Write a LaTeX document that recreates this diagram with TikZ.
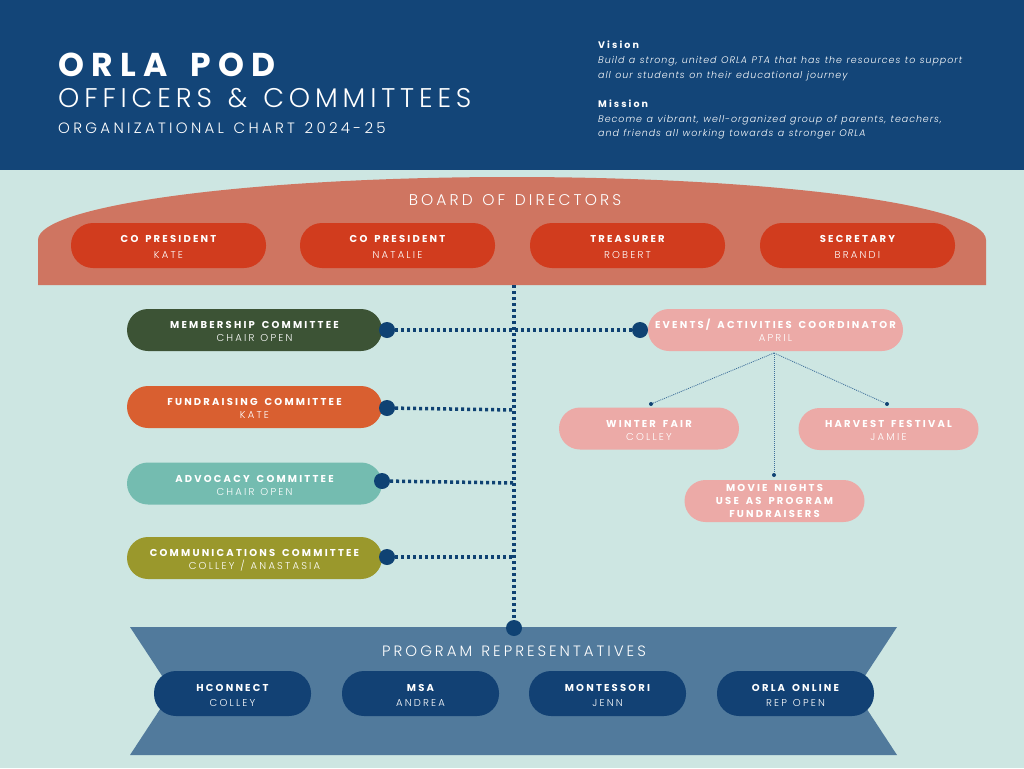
\documentclass[tikz,border=0pt]{standalone}
\usepackage{fontspec}
\setmainfont{Poppins}
\newfontfamily\lblfont[LetterSpace=22, WordSpace=1.6]{Poppins}
\newfontfamily\namefont[LetterSpace=22, WordSpace=1.2]{Poppins Light}
\newfontfamily\headfont[LetterSpace=20, WordSpace=1.3]{Poppins Light}
\newfontfamily\visfont[LetterSpace=10, WordSpace=1.2]{Poppins Light}
\usetikzlibrary{positioning, calc}

\definecolor{headblue}{HTML}{134578}
\definecolor{bgmint}{HTML}{CDE6E2}
\definecolor{boardfill}{HTML}{CF7561}
\definecolor{boardbox}{HTML}{D13C1E}
\definecolor{memgreen}{HTML}{3C5335}
\definecolor{fundorange}{HTML}{D95F30}
\definecolor{advoteal}{HTML}{74BCB0}
\definecolor{commolive}{HTML}{9A982C}
\definecolor{eventpink}{HTML}{ECAAA7}
\definecolor{ribbonblue}{HTML}{517A9C}
\definecolor{progblue}{HTML}{124174}
\definecolor{dotblue}{HTML}{0F4273}
\definecolor{fanblue}{HTML}{3D6E9A}

\newcommand{\twoline}[3][0pt]{{\fontsize{10}{14}\bfseries\lblfont\rule{0pt}{13pt}#2}\\[#1]{\fontsize{10}{14}\namefont\rule[-3pt]{0pt}{10pt}#3}}

\begin{document}
\begin{tikzpicture}[
    x=1pt, y=-1pt,
    pill/.style={rectangle, rounded corners=21pt, text=white, align=center, inner sep=0pt, minimum height=42pt},
    board/.style={pill, fill=boardbox, minimum width=195pt, minimum height=45pt, rounded corners=22pt},
    committee/.style={pill, minimum width=255pt},
    event/.style={pill, fill=eventpink, minimum width=180pt},
    program/.style={pill, fill=progblue, minimum width=157pt, minimum height=45pt, rounded corners=22pt},
    joint/.style={circle, fill=dotblue, inner sep=0pt, minimum size=16pt},
    tip/.style={circle, fill=dotblue, inner sep=0pt, minimum size=4pt},
    link/.style={dotblue, line width=3.5pt, dash pattern=on 3pt off 3pt},
    fan/.style={fanblue, line width=0.8pt, dash pattern=on 1pt off 1pt}
]
    \useasboundingbox (0,0) rectangle (1024,768);
    \fill [bgmint] (0,0) rectangle (1024,768);

    % Header
    \fill [headblue] (0,0) rectangle (1024,170);
    \node (title) [anchor=base west, text=white, inner sep=0pt, font=\fontsize{33}{33}\bfseries\lblfont] at (58,76) {ORLA POD};
    \node (subtitle) [anchor=base west, text=white, inner sep=0pt, font=\fontsize{27}{27}\headfont\addfontfeatures{LetterSpace=18}] at (58,107) {OFFICERS \& COMMITTEES};
    \node (chart) [anchor=base west, text=white, inner sep=0pt, font=\fontsize{15}{15}\headfont\addfontfeatures{LetterSpace=22}] at (58,133) {ORGANIZATIONAL CHART 2024-25};

    \node (vision) [anchor=north west, text=white, inner sep=0pt, align=left, font=\fontsize{9.5}{15}\visfont] at (598,41)
        {{\bfseries\lblfont Vision}\\
         \itshape Build a strong, united ORLA PTA that has the resources to support\\
         \itshape all our students on their educational journey};
    \node (mission) [anchor=north west, text=white, inner sep=0pt, align=left, font=\fontsize{9.5}{14.5}\visfont] at (598,100)
        {{\bfseries\lblfont Mission}\\
         \itshape Become a vibrant, well-organized group of parents, teachers,\\
         \itshape and friends all working towards a stronger ORLA};

    % Board of directors
    \fill [boardfill] (38,285) -- (38,240) arc [start angle=180, end angle=0, x radius=474, y radius=-63] -- (986,285) -- cycle;
    \node (boardtitle) [anchor=base, text=white, font=\fontsize{15.5}{15.5}\headfont] at (515,205) {BOARD OF DIRECTORS};
    \node (pres1) [board] at (168.5,245.5) {\twoline[4pt]{CO PRESIDENT}{KATE}};
    \node (pres2) [board] at (397.5,245.5) {\twoline[4pt]{CO PRESIDENT}{NATALIE}};
    \node (treas) [board] at (627.5,245.5) {\twoline[4pt]{TREASURER}{ROBERT}};
    \node (secr) [board] at (857.5,245.5) {\twoline[4pt]{SECRETARY}{BRANDI}};

    % Program representatives
    \fill [ribbonblue] (130,627) -- (897,627) -- (855,691) -- (897,755) -- (130,755) -- (172,691) -- cycle;
    \node (progtitle) [anchor=base, text=white, font=\fontsize{15}{15}\headfont] at (514,656) {PROGRAM REPRESENTATIVES};
    \node (hconn) [program] at (232.5,693.5) {\twoline[3pt]{HCONNECT}{COLLEY}};
    \node (msa) [program] at (420.5,693.5) {\twoline[3pt]{MSA}{ANDREA}};
    \node (mont) [program] at (607.5,693.5) {\twoline[3pt]{MONTESSORI}{JENN}};
    \node (online) [program] at (795.5,693.5) {\twoline[3pt]{ORLA ONLINE}{REP OPEN}};

    % Committees
    \node (member) [committee, fill=memgreen] at (254.5,330) {\twoline[1pt]{MEMBERSHIP COMMITTEE}{CHAIR OPEN}};
    \node (fund) [committee, fill=fundorange] at (254.5,407) {\twoline[1pt]{FUNDRAISING COMMITTEE}{KATE}};
    \node (advo) [committee, fill=advoteal] at (254.5,483.5) {\twoline[1pt]{ADVOCACY COMMITTEE}{CHAIR OPEN}};
    \node (comm) [committee, fill=commolive] at (254.5,558) {\twoline[1pt]{COMMUNICATIONS COMMITTEE}{COLLEY / ANASTASIA}};

    % Events
    \node (events) [committee, fill=eventpink] at (775.5,330) {\twoline[1pt]{EVENTS/ ACTIVITIES COORDINATOR}{APRIL}};
    \node (winter) [event] at (649,428.5) {\twoline[1pt]{WINTER FAIR}{COLLEY}};
    \node (harvest) [event] at (888.5,429) {\twoline[1pt]{HARVEST FESTIVAL}{JAMIE}};
    \node (movie) [event, font=\fontsize{10}{13}\bfseries\lblfont] at (774.5,501) {MOVIE NIGHTS\\USE AS PROGRAM\\FUNDRAISERS};

    % Dotted connections
    \coordinate (trunktop) at (514,285);
    \node (progdot) [joint] at (514,628) {};
    \node (memdot) [joint] at (387,330) {};
    \node (funddot) [joint] at (387,408) {};
    \node (advodot) [joint] at (382,481) {};
    \node (commdot) [joint] at (387,557) {};
    \node (evdot) [joint] at (640,330) {};
    \draw [link] (trunktop) -- (progdot);
    \draw [link] (memdot) -- (evdot);
    \draw [link] (funddot) -- (514,410);
    \draw [link] (advodot) -- (514,483);
    \draw [link] (commdot) -- (514,557);

    % Event branches
    \coordinate (fanroot) at (774,353);
    \node (wintip) [tip] at (651,404) {};
    \node (hartip) [tip] at (887,404) {};
    \node (movtip) [tip] at (774,475) {};
    \draw [fan] (fanroot) -- (wintip);
    \draw [fan] (fanroot) -- (hartip);
    \draw [fan] (fanroot) -- (movtip);
\end{tikzpicture}
\end{document}
